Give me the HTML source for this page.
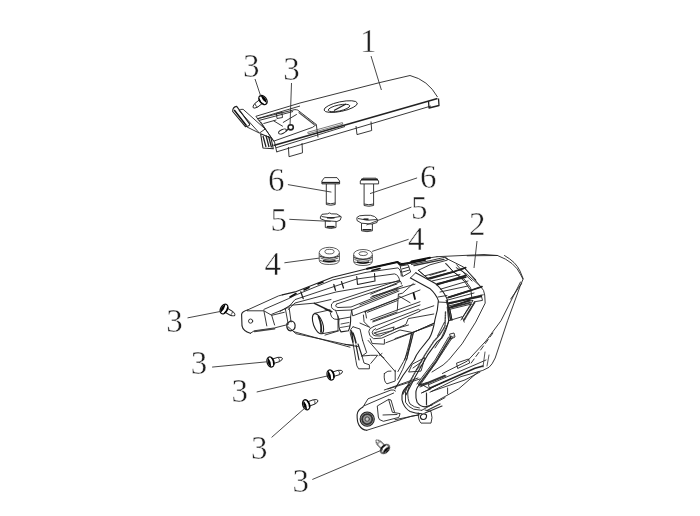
<!DOCTYPE html>
<html><head><meta charset="utf-8">
<style>
html,body{margin:0;padding:0;background:#fff;}
svg{display:block;}
text{font-family:"Liberation Serif",serif;font-size:33px;fill:#1e1e1e;stroke:#fff;stroke-width:0.45px;}
.lbl{opacity:0.999;will-change:transform;}
</style></head><body>
<svg width="700" height="516" viewBox="0 0 700 516">
<defs>
<g id="scr">
  <path d="M2.5,-2.3 L8.5,-2.3 Q12.5,-1.5 12.5,0 Q12.5,1.5 8.5,2.3 L2.5,2.3" fill="#fff" stroke="#222" stroke-width="0.9"/>
  <path d="M8.5,-2.2 Q10,0 8.5,2.2" stroke="#333" stroke-width="0.8" fill="none"/>
  <ellipse cx="0" cy="0" rx="3.4" ry="5.2" fill="#fff" stroke="#111" stroke-width="1.3"/>
  <path d="M-1.2,-3.6 Q-3.2,0 -1.2,3.8 Q0.2,0 -1.2,-3.6 Z" fill="#000" stroke="#000" stroke-width="1"/>
  <path d="M2.2,-3.8 Q3.8,0 2.2,3.8" stroke="#000" stroke-width="1.2" fill="none"/>
</g>
</defs>
<rect width="700" height="516" fill="#fff"/>

<!-- labels -->
<g class="lbl">
<text x="360.0" y="52.3">1</text>
<text x="242.9" y="76.8">3</text>
<text x="283.3" y="79.5">3</text>
<text x="268.0" y="190.6">6</text>
<text x="420.0" y="188">6</text>
<text x="270.5" y="231">5</text>
<text x="411.0" y="218.5">5</text>
<text x="264.5" y="274.8">4</text>
<text x="408.1" y="250.3">4</text>
<text x="469.1" y="235.1">2</text>
<text x="166.3" y="331.5">3</text>
<text x="190.8" y="373.5">3</text>
<text x="231.4" y="401.5">3</text>
<text x="251.1" y="458.7">3</text>
<text x="292.4" y="492">3</text>
</g>



<!-- screws -->
<use href="#scr" transform="translate(224,309) rotate(30)"/>
<use href="#scr" transform="translate(270.5,362) rotate(-17)"/>
<use href="#scr" transform="translate(330.6,375) rotate(-17)"/>
<use href="#scr" transform="translate(306.2,404.8) rotate(-20)"/>
<use href="#scr" transform="translate(385,449) rotate(-135)"/>
<use href="#scr" transform="translate(263,100) rotate(142)"/>

<!-- bolts 6 -->
<g stroke="#222" stroke-width="0.9" fill="#fff">
  <path d="M326.3,184 L326.3,204.5 Q330.7,206 335.2,204.5 L335.2,184"/>
  <path d="M326.3,203 Q330.7,204.5 335.2,203" fill="none"/>
  <path d="M324.5,177.6 L337,177.6 L339.6,181 L339.6,183.9 L321.9,183.9 L321.9,181 Z"/>
  <path d="M322,182.6 L339.5,182.6" stroke-width="1.5"/>
  <path d="M364.1,184 L364.1,205.5 Q368.8,207 373.6,205.5 L373.6,184"/>
  <path d="M364.1,204 Q368.8,205.5 373.6,204" fill="none"/>
  <path d="M363,178.2 L376,178.2 L378.6,181 L378.6,183.9 L360.3,183.9 L360.3,181 Z"/>
  <path d="M361,179.6 L378,179.6" stroke-width="1.8"/>
</g>
<!-- nuts 5 -->
<g stroke="#222" stroke-width="0.9" fill="#fff" stroke-linejoin="round">
  <path d="M325.3,219 L325.3,227.5 Q330.7,229.5 336,227.5 L336,219"/>
  <path d="M326.7,226.8 L334.6,226.8" stroke-width="1.8"/>
  <path d="M320.4,216.8 L322,214.3 L327.6,213.8 L329.5,212.9 L331.3,213.8 L336.9,214 L341.3,216.8 L340.2,220.1 L336.9,221.5 L325.3,220.6 L320.4,218.7 Z"/>
  <path d="M321.5,216.5 Q331,219.5 340.5,216.5" fill="none"/>
  <path d="M327,217.8 L334.5,217.8" stroke-width="1.4"/>
  <path d="M361.5,221 L361.5,230.8 Q367,232.5 372.4,230.8 L372.4,221"/>
  <path d="M362.5,229.8 L371.5,229.8" stroke-width="1.6"/>
  <path d="M356.9,217.5 L359.5,215.8 L365,215.3 L370.5,215.3 L374.5,216.5 L377.7,219.5 L377,222.5 L372,224.1 L361.5,223.2 L357,220.5 Z"/>
  <path d="M358,218.5 Q367.5,221.5 377,219.5" fill="none"/>
  <path d="M363.5,219.2 L368.5,219.2" stroke-width="1.6"/>
</g>
<!-- grommets 4 -->
<g stroke="#333" stroke-width="0.8" fill="#fff">
  <path d="M319.2,253 L319.2,260 Q319.2,264.5 329.3,264.5 Q339.4,264.5 339.4,260 L339.4,253"/>
  <ellipse cx="329.3" cy="252.5" rx="10.1" ry="5.2"/>
  <ellipse cx="329.5" cy="251.6" rx="4.6" ry="2.3"/>
  <path d="M319.5,256 Q329.3,260.5 339.2,256" fill="none" stroke-width="1.1"/>
  <path d="M320.5,258 Q329.3,262 338.2,258" fill="none"/>
  <path d="M320,260.5 Q329.3,264 338.6,260.5" fill="none"/>
  <path d="M323,260.6 Q329.3,262.3 335.6,260.6" stroke="#111" stroke-width="1.5" fill="none"/>
  <path d="M353.6,255 L353.6,261 Q353.6,265.5 363,265.5 Q372.4,265.5 372.4,261 L372.4,255"/>
  <ellipse cx="363" cy="254.3" rx="9.4" ry="4.8"/>
  <ellipse cx="363.2" cy="253.6" rx="4.3" ry="2"/>
  <path d="M353.8,257.5 Q363,261.5 372.2,257.5" fill="none" stroke-width="1.1"/>
  <path d="M354.5,259.5 Q363,263 371.5,259.5" fill="none"/>
  <path d="M354,262 Q363,265 372,262" fill="none"/>
  <path d="M357,262 Q363,263.8 369,262" stroke="#111" stroke-width="1.5" fill="none"/>
</g>

<!-- PART 1: top cover -->
<g stroke="#222" stroke-width="0.9" fill="none" stroke-linejoin="round">
  <!-- top edge and curved end -->
  <path d="M255.9,116.3 L300,103 L380,82.5 L410,75.5 Q428,80 437.5,97"/>
  <path d="M258,118.5 L300,106"/>
  <!-- front top edge (thick) -->
  <path d="M437.5,98.5 L273.5,145.5" stroke-width="1.7"/>
  <path d="M345,126.5 L276,147.8"/>
  <path d="M431,106 L276.8,151.8"/>
  <!-- tabs -->
  <path d="M428.5,101 L429,108 L439,105.5 L438.5,98.5" stroke-width="1.3"/>
  <path d="M356,126 L357,134.6 L371.7,130.5 L371,121.5"/>
  <path d="M288.4,147 L289,156.7 L302.5,152.8 L302,143"/>
  <!-- oval hole -->
  <ellipse cx="340.7" cy="106.6" rx="17" ry="4.8" transform="rotate(-12 340.7 106.6)"/>
  <ellipse cx="339" cy="108" rx="11" ry="3" transform="rotate(-12 339 108)"/>
  <path d="M334,110.5 L346,104" stroke-width="1.4"/>
  <!-- pocket -->
  <path d="M256.9,118.9 L294.9,109.6 Q296.5,109.6 297.7,110.1 L316.3,124.5 L312.6,127.3 L273.6,141.2"/>
  <path d="M258.7,120.5 L293,111.5"/>
  <path d="M298.6,112.4 L314.5,124.8" stroke="#444" stroke-width="1.2"/>
  <path d="M263.4,123.6 L276.4,119.9 M276.4,113.4 L281.9,112.5 L282.5,117.5 L277,118.5 Z"/>
  <path d="M273.6,120.8 L282.9,126.4 M282.9,122.6 L296.8,114.3"/>
  <path d="M260.6,121.7 L273.6,141.2"/>
  <ellipse cx="282.5" cy="131.5" rx="4.2" ry="1.9" transform="rotate(-25 282.5 131.5)"/>
  <circle cx="290.7" cy="127.3" r="2.6" stroke-width="1.6" fill="#fff"/>
  <path d="M288.5,129 L285.5,131.5" stroke-width="1.2"/>
  <path d="M316.3,124.5 L318,137.4"/>
  <!-- left tab and plate -->
  <path d="M232.7,111.5 Q232.5,107 236.7,106.4 L249.5,123.8 Q250.5,126 245.4,126.7 Z" stroke-width="1.1"/>
  <path d="M234.2,110 L246.5,125.8" stroke="#111" stroke-width="1.5"/>
  <path d="M239,110.5 L259.4,133.1 M243.1,109.3 L265.2,129 M239,110.5 Q240,109 243.1,109.3"/>
  <path d="M247,127 L259.4,133.1 L265.2,129"/>
  <path d="M260.6,133.7 L263,148 L273.3,148.8 L271,138 Z" stroke-width="1.1"/>
  <path d="M263,136 L266,147 M266,135.5 L269,147 M268.5,136 L271.5,147.5" stroke-width="1.3"/>
  <path d="M255.9,116.3 L265.2,129"/>
  <path d="M265.2,129 L274.5,141.9 L276.8,152.3"/>
  <path d="M307.7,132.3 L342.4,122.6 L342.8,124.2 L308.2,133.8 Z" stroke-width="0.7" stroke="#444"/>
</g>

<!-- PART 2: main assembly -->
<g stroke="#222" stroke-width="0.9" fill="none" stroke-linejoin="round" stroke-linecap="round">
  <!-- ===== left bracket ===== -->
  <path d="M247.4,310 Q242,311.5 241.6,314.3 L242,325.9 Q243,331 250.4,333.3" stroke-width="1.1"/>
  <path d="M247.4,310 L278.5,295.9 L282.3,294.9"/>
  <path d="M247.4,310.8 L263.9,310.8 L271.7,315.3 L284.3,312.3"/>
  <path d="M263.9,310.8 L266.8,325.9 M271.7,315.3 L274.6,325"/>
  <path d="M250.4,333.3 L254.2,330.8 L274.6,327.9 L288,324.5"/>
  <path d="M254.5,331.5 L274.6,328.8" stroke="#444" stroke-width="1.6"/>
  <circle cx="250.6" cy="321.1" r="2.1"/>
  <path d="M285.3,308.5 L288.2,324 M289.1,307.5 L291.1,322"/>
  <path d="M287,323.5 Q286,330 290.5,330.8 Q295.5,330.5 295.1,325 Q294.5,321 290.5,321 Z" stroke-width="1.2"/>
  <!-- ===== frame rails ===== -->
  <path d="M282.3,294.9 L295,291.9 L332.7,277.3 L367,268.7 L397.9,261.9 L401.3,263.6 L415,262.7" stroke-width="1.1"/>
  <path d="M367,268.7 L397.5,262 L399.8,264.7 L425,260" stroke="#111" stroke-width="2"/>
  <path d="M400.6,266 L408,264.7 L410.7,272 L403,276.4 Z M402,269 L409,267 M402.5,272 L409.5,270" stroke="#333" stroke-width="1"/>
  <path d="M263.9,309.4 L288.2,298.8 L295,295.3 L332.7,279.9 L367,272.2 L397.9,267.9 Q401,269.5 401.3,276"/>
  <path d="M290,297 L296,293.5 M304,290 L309,287.5 M318,284 L323,282 M372,270.5 L380,268.5" stroke="#111" stroke-width="1.6"/>
  <path d="M271.7,314.3 L288.2,307.5 L295,299.6 L356.7,279 L394.5,273.9 Q399,275 399.6,280.7"/>
  <path d="M288.2,309.5 L295,303 L336,292 L399.6,281"/>
  <path d="M356.7,276.5 L357.5,284.5 L375,281 L374.5,273.5" stroke-width="1.1"/>
  <path d="M300.8,291.8 L303.2,298.6 M333.8,284.5 L335.5,290.3 M341.5,281.6 L343.5,288" stroke-width="1.3"/>
  <path d="M372.2,296.2 L415,284.2"/>
  <!-- arm A loop -->
  <path d="M333.5,302 Q330.5,304 331.4,306.3 Q331.5,309.5 336.7,310.6 L351.7,310 L352.7,315.9 L375,307.4 L420,290"/>
  <path d="M333.5,302 L398,280.7 Q401.5,280.5 401.4,284"/>
  <path d="M336.7,304 L397,284 M336.7,304 Q334,306.5 338,307.5 L351,307 L398,288"/>
  <path d="M351.7,310 L399,291"/>
  <path d="M335.7,310.6 L338.9,319.1 L350.6,317 L351.7,310"/>
  <path d="M338.9,319.1 Q338,328 341,331.9 L348.5,330.8 Q351,325 350.6,317" stroke-width="1.1"/>
  <path d="M341,324 L349,322.5 M340.5,327.5 L349.5,326" stroke-width="0.8"/>
  <path d="M330.3,312.7 Q331,318 334.6,319.1 L338.9,319.5"/>
  <path d="M325,309.5 L331.4,311.7 M325,335.1 L338.9,330.8"/>
  <path d="M364.6,312 L397,299"/>
  <!-- arm B loop -->
  <path d="M373.6,326.5 Q368.5,328.5 368.8,331.5 Q368.5,336 373.6,338.7 L381.7,338.1 L400,330 L412.9,332.6 L433.8,323.3"/>
  <path d="M375.6,328.6 Q372,330.5 372.2,332.5 Q372.5,335.5 375,335.8 L380.3,336 L405.9,324.4 L408.3,318.6 L433.8,314"/>
  <path d="M374,333 L394,327 L393,330.5 L377,334.5 Z" stroke="#444" stroke-width="1.1"/>
  <path d="M370.2,338.7 L372.2,343.5 L384.4,344.2 L384.4,339.4 M385.8,342.8 L412.9,332.6 L433.8,323.3"/>
  <path d="M373.6,326.5 L418.7,309.3 L420,310.5 L433.8,305.8 M360,323.1 L369.5,327.2 M363.4,315 L364.1,321.8 L369.5,327.2"/>
  <path d="M365.3,311.2 L366.5,318"/>
  <path d="M367.5,312.3 L397.3,300.6 M370.7,319.8 L420,301.7 M372.8,321.9 L420,304.9"/>
  <path d="M373,321 L397,312 M378,319 L392,314" stroke="#444" stroke-width="1.2"/>
  <path d="M376,330 L420,311.2"/>
  <path d="M370.7,294.2 L400.5,281.4 M370.7,297.4 L402.6,285.7"/>
  <path d="M360,304.9 L398,290"/>
  <path d="M398.4,294.2 L402.6,293.1 L413.3,283.5 M398.4,294.2 L397.3,310.2 M399.4,296.3 L410.1,302.7"/>
  <path d="M413.5,293 L415,299" stroke="#111" stroke-width="1.8"/>
  <!-- side wall + bottom -->
  <path d="M280,311.5 L290.2,305.3 L315.8,303 L331,299.5"/>
  <path d="M288.2,326.9 L296,333.7 L350,345.3 L358,346.5"/>
  <path d="M294,331.7 L324,340 L350,347.2"/>
  <!-- cylinder -->
  <path d="M314.4,303.4 L331.8,311.7" stroke-width="1.6"/>
  <ellipse cx="318" cy="323.7" rx="4.6" ry="10.6" transform="rotate(-20 318 323.7)" stroke-width="1.1"/>
  <path d="M314.5,313.3 L330,309.8 M322.5,333.7 L338,330.7 L338,316"/>
  <path d="M318.5,316.5 Q322,325 321,332" stroke-width="1.8"/>
  <!-- clip -->
  <path d="M353.1,326.8 Q349.5,329 350.4,334 L353,343 L355.9,360.7 Q356.5,367 358.6,368.8 L369.4,368.8 L369.4,364.8 L364,363 L362,356 L370.8,355.3 L377.6,355.3 L370.8,363.4 M362.6,340.4 L366.7,352.6 L362,356"/>
  <path d="M351.5,331 L353,342 M353,333 Q355,338 356,343" stroke-width="1.5"/>
  <path d="M356,345 L359,360 M358,344 L362,356" stroke-width="1.2"/>
  <path d="M353.1,326.8 L360,329 L362.6,340.4"/>
  <path d="M345,344.4 L353.1,345.1"/>
  <!-- frame diag + curve -->
  <path d="M368.1,340.4 L395.2,371.6 M411.7,333.7 L404.8,360 M413.5,333 L406.6,360"/>
  <path d="M378,352 Q381,357 384,358 M379,355.5 L382,353.5" />
  <path d="M412.8,333.6 Q411,343 408.8,349.9 Q404,362 397.9,371.6"/>
  <path d="M384.3,373.5 Q383.5,382 387,383.8 L395.2,381 L395.2,370.2 M384.3,373.5 Q388,370 391,371"/>
  <!-- ===== housing ===== -->
  <path d="M400.8,265.5 L411.5,261.6 L430,257.8 L437,256.7"/>
  <path d="M411.5,261.6 L430,257.8" stroke="#111" stroke-width="2"/>
  <path d="M437,256.7 L484,254.5 L497.5,255.5 Q515,262 520.8,274.9 L522.8,278.8"/>
  <path d="M411.5,264.5 L430,260.7 L445.1,257.2 Q448,258 447.4,260.1 L430,264.8 L418.3,270.3"/>
  <path d="M414,265.5 L444,259.3" stroke="#333" stroke-width="1.3"/>
  <path d="M445.1,257.8 L463.7,267.1 L480,285.7 L483.5,290.4 L484.7,295 L485.2,303.1 L475.7,322.1 L462.1,343.8 L448.6,360.1 L443.1,365 L432,372"/>
  <path d="M446.3,263.6 L453.3,271.8 L464.9,279.9 L470.7,288 L471.9,298.5"/>
  <path d="M456.7,264.8 L466,275.3 L472,281 M464.9,268.3 L476,280"/>
  <path d="M418.3,270.3 L428,278.6"/>
  <path d="M430,278.7 L453.3,271.8" stroke-width="1.8"/>
  <path d="M453.3,271.8 L464.9,268.3"/>
  <path d="M437,284.6 L466,275.3" stroke-width="1.8"/>
  <path d="M448.6,297.3 L470.7,290.4" stroke-width="1.8"/>
  <path d="M470.7,290.4 L481.2,286.9"/>
  <path d="M448.6,303.2 L481.2,296.2" stroke-width="1.9"/>
  <path d="M430,275.3 L446,270.5 M440.5,289.2 L468,281 M446,300.5 L474,293"/>
  <path d="M446.7,301.6 L450.8,320 M449.4,307 L452,320"/>
  <path d="M481.1,295 L482.5,300.4 L474.3,301.8"/>
  <path d="M447.2,307.2 L448.6,320.8 L462.1,316.7 L464.2,322.1"/>
  <path d="M448.6,305.9 L473,300.4 L462.1,318 M449,309.5 L471.5,304 L461,320" stroke="#222"/>
  <path d="M451,307.5 L470,302.7 M474.5,302.5 L464,320" stroke="#333" stroke-width="1.8" stroke-dasharray="1.2 0.9"/>
  <path d="M445.4,263.6 L453.5,271.7 L464.3,281.2 L469.8,289.3"/>
  <path d="M456.2,267.6 L467.1,274.4 L480.6,286.6"/>
  <path d="M418.3,270.3 L428,278.6"/>
  <path d="M427.7,278.5 L453.5,271.7 L465.7,267.6" stroke-width="1.7"/>
  <path d="M437.2,283.9 L465.7,277.1" stroke-width="1.8"/>
  <path d="M448.1,297.5 L469.8,290.7 L482,286.6" stroke-width="1.7"/>
  <path d="M448.1,304.3 L471.1,297.5 L483.3,294.8"/>
  <path d="M450.8,307 L469.8,300.2" stroke-width="1.8"/>
  <path d="M425,275.8 L446,270 M432,281 L460,274.5 M440,292 L468,286"/>
  <path d="M446.7,301.6 L450.8,320 M449.4,307 L452,320"/>
  <!-- strap -->
  <path d="M410.5,277.9 L429.7,288.4 Q436,294 438.4,300.6 Q438,310 434.9,319.8 Q433,332 429.2,338.4 L419.9,350 Q416,355 414.1,360 L403.1,375.2 L395,388.8" stroke-width="1.1"/>
  <path d="M415.7,272.7 L434.9,283.2 Q443,290 447.1,298.9 Q449.5,309 448.9,319.8 Q446,332 441.9,338 L437.1,341.9 L427.6,354.9 L415.4,376.6 L405.9,395" stroke-width="1.1"/>
  <path d="M445.5,312 L445,326 Q441,334 434,341 L424.5,355.5 L412.5,377 L403,394" stroke="#444" stroke-width="1.4" stroke-dasharray="1.6 1"/>
  <path d="M410.5,277.9 L415.7,272.7"/>
  <path d="M438,297 L447,295.5 M438.4,302 L447.6,302.5"/>
  <!-- outer straps -->
  <path d="M453.3,336 L435.7,363 L419.4,386"/>
  <path d="M448.6,337 L435,360.1 L417,384"/>
  <path d="M451,336.5 L436,361.5 L418.5,385" stroke="#333" stroke-width="1.8" stroke-dasharray="1.2 0.9"/>
  <path d="M448.6,322.1 L440.4,339.8 L435,347.9 M444.5,322.1 L437.7,335.7"/>
  <path d="M450,334 L454,333 L455,337 L451,339 Z"/>
  <path d="M411.3,333.1 Q409.5,346 407.2,357.6 Q403,370 397.7,379.3"/>
  <path d="M412.6,364 L424.9,357.6 L421,371.1 L409,372 Z M413,368 L422,361.5 M416,370 L423,364" stroke-width="0.9"/>
  <path d="M395,338.6 L433,325 M395,329 L408.5,325"/>
  <!-- lens -->
  <path d="M467.2,255.8 L497.5,255.5"/>
  <path d="M504.5,255.5 Q516,262 520,271 L523.2,278.8 L520,286.6 L507.6,320.7 L495.2,358 Q492,365 489,367.3 L482.8,370.4 L461,376.6 L442.4,386 L430,392.2"/>
  <path d="M521.6,283.5 L510.7,299"/>
  <path d="M520.5,282 L501,320.7 L485.9,341 L467.3,361.1 L442.4,373.5"/>
  <path d="M492.9,333 L471.2,363" stroke-dasharray="5 3"/>
  <path d="M430.1,388 L475,368.3 L483,366" stroke-width="1.5"/>
  <path d="M429,384.5 L475,364.8 L486,360"/>
  <path d="M431.3,391.5 L465,379.9 L480,372"/>
  <path d="M419.7,383.4 L430.1,389.2 M426.6,393.8 L426.6,405 M447.6,388 L447.6,393.8"/>
  <path d="M430.1,405 Q440,399 449.9,393.8 Q460,389 465,383.4 L478,372"/>
  <path d="M456.9,363 L468.5,359 L469.7,363 L458,368.3 Z"/>
  <path d="M485,352 L483,367 M489,355 L487,366" stroke="#444"/>
  <!-- ===== lower arm ===== -->
  <path d="M362.9,407.1 Q357.5,410 357.1,414.8 Q357,422 359,425.1 Q362,430 366.7,430.3" stroke-width="1.1"/>
  <path d="M362.9,407.1 L368,398.8 L391,390 Q394,389.5 395.5,391"/>
  <path d="M364.1,405.8 L393.7,393"/>
  <path d="M366.7,430.3 L411.7,416.1 L419.4,414.8"/>
  <circle cx="367.2" cy="419.1" r="7.1" stroke-width="1.1" fill="#999"/>
  <circle cx="367.2" cy="419.1" r="5" stroke="#333" stroke-width="1.8" stroke-dasharray="1.2 1.2" fill="none"/>
  <circle cx="367.2" cy="419.1" r="2.2" stroke="#444" stroke-width="1" fill="#ccc"/>
  <path d="M377.6,405.8 L388.6,399.4 L392.4,412.3 L400.1,413.6 L398.8,417.4 L383.4,421.3 Q378,420 378.3,417.4 Z"/>
  <path d="M388.6,399.4 L391,400 L394.5,412 M383,415 L397,414.5" stroke-width="0.9"/>
  <path d="M409,384.8 Q402.5,390 402,395.2 Q401.5,400 403.1,403.4 Q405.5,409 410.1,411.5 Q415,413.5 421.7,413.8" stroke-width="1.1"/>
  <path d="M410.1,383.6 Q406,388 405.5,391.7 L405.5,402.2 Q408,407 413.6,409.2 L421.7,410.3"/>
  <path d="M411.3,382.4 Q408.5,386 407.8,390.6 Q407.5,400 410,404 Q414,407.5 419.4,408"/>
  <path d="M419.4,384.8 Q416,388 415.9,392.9 Q415.5,398 417.1,402.2 Q420,406.5 425.2,406.9 L432,405" stroke-width="1.1"/>
  <path d="M419.4,384.8 L427.6,382.4 L429.9,389.4 L421.7,392.9 M420,387 L446,376" />
  <path d="M421,385.5 L445,375.5" stroke="#333" stroke-width="1.6"/>
  <path d="M426.4,392.9 L426.4,404.5 M421.7,392.9 L445,381.3"/>
  <path d="M395,419.7 L418.3,415 M421.7,410.3 L445,397.6"/>
  <path d="M418.3,413 Q418,420 421,423.1 L431,423.1 Q433,418 431,411.5 L425,410"/>
  <path d="M420.5,416 Q423,412.5 426.5,415 Q427,419.5 423,419.5 Q420,419 420.5,416 Z" stroke-width="1.2"/>
  <path d="M427,410.5 L440,404 M425,413 L442,406" stroke="#333" stroke-width="1.2"/>
  <path d="M384.3,390 L418,378 M388,389 L420,379"/>
</g>

<!-- leaders -->
<g stroke="#333" stroke-width="0.9" fill="none">
<path d="M371,56 L381.4,90"/>
<path d="M255,79 L261,97"/>
<path d="M291.5,83 L290,126"/>
<path d="M287.9,184.6 L331.4,192.1"/>
<path d="M417.1,177.9 L370,193.6"/>
<path d="M289.3,219.3 L330.7,221.4"/>
<path d="M411.4,207.1 L366.4,225"/>
<path d="M284.4,262.8 L319.3,258.1"/>
<path d="M408.6,239.3 L372.1,251.4"/>
<path d="M477,241 L474,268"/>
<path d="M187.5,317.9 L220.7,311.4"/>
<path d="M212.1,367.1 L266.8,361.8"/>
<path d="M256.7,392 L328.6,375.7"/>
<path d="M271.6,437.4 L305.5,407.5"/>
<path d="M312.3,479.5 L382.9,449.6"/>
</g>
</svg>
</body></html>
